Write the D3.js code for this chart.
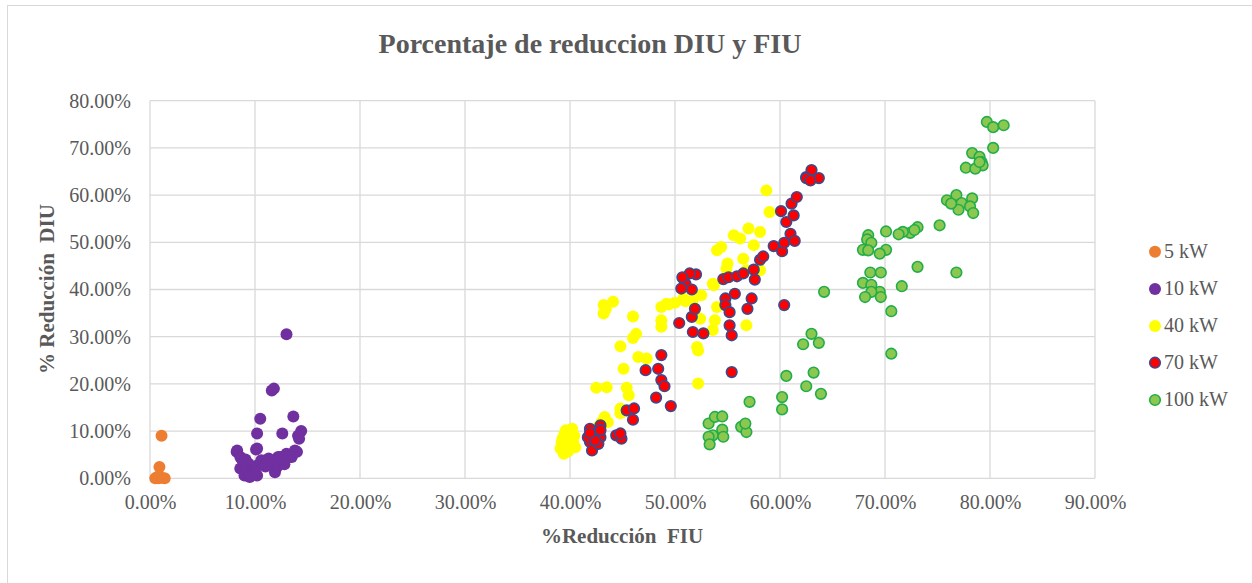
<!DOCTYPE html>
<html>
<head>
<meta charset="utf-8">
<script src="https://cdn.jsdelivr.net/npm/d3@7"></script>
<style>
    body { margin: 0; background: white; }
    text { font-family: "Liberation Serif", "Times New Roman", serif; fill: #595959; }
</style>
</head>
<body>
<script>
// values in percent, [%Reduccion FIU, %Reduccion DIU]
let series = ["5 kW", "10 kW", "40 kW", "70 kW", "100 kW"];

let kw5 = [[0.5, 0], [0.8, 0], [1.1, 0.1], [1.4, 0], [0.7, 0.3], [0.9, 2.4], [1.1, 9.0]];

let kw10 = [[13.0, 30.5], [11.6, 18.6], [11.8, 19.0], [10.5, 12.6], [13.65, 13.1], [10.2, 9.5], [12.6, 9.5],
    [14.4, 10.0], [14.2, 8.4], [14.1, 9.0], [10.1, 6.1], [10.2, 6.3], [8.25, 5.6], [8.3, 5.9], [8.6, 4.5],
    [8.7, 4.2], [8.6, 2.1], [9.0, 0.6], [9.7, 1.3], [9.4, 3.1], [10.3, 2.8], [11.3, 4.2], [11.9, 2.1],
    [12.2, 4.5], [13.0, 5.2], [13.8, 5.9], [10.6, 3.8], [9.5, 0.3], [10.2, 0.6], [11.6, 3.1], [12.5, 3.5],
    [13.5, 4.5], [12.1, 2.4], [12.4, 4.5], [14.0, 5.6], [13.3, 4.5], [11.1, 3.1], [11.9, 1.3], [9.2, 1.8],
    [9.8, 2.2], [8.9, 3.3], [9.1, 4.0], [9.6, 0.9], [10.0, 1.5], [12.8, 3.0], [11.0, 2.5]];

let kw40 = [[39.4, 5.2], [39.5, 7.3], [40.0, 9.5], [40.3, 7.7], [39.5, 9.5], [40.5, 6.6], [39.7, 6.3],
    [39.3, 8.5], [40.2, 10.5], [39.1, 6.3], [39.6, 10.2], [40.4, 9.0], [39.2, 7.6], [40.1, 8.2], [39.8, 5.7],
    [43.3, 13.0], [43.6, 11.9], [44.8, 13.8], [43.0, 11.9], [42.7, 10.9], [44.8, 14.8], [43.5, 19.3],
    [42.5, 19.2], [45.4, 19.2], [45.6, 17.6], [45.1, 23.2], [44.8, 28.0], [46.0, 29.7], [46.3, 30.6],
    [46.0, 34.3], [43.2, 36.7], [44.1, 37.4], [43.2, 34.9], [43.4, 35.8], [46.5, 25.7], [47.3, 25.4],
    [48.7, 36.3], [48.7, 33.5], [48.7, 32.1], [49.4, 36.8], [50.0, 37.2], [51.0, 37.5], [50.8, 38.1],
    [52.5, 38.8], [49.2, 37.0], [53.7, 40.9], [54.9, 44.4], [56.5, 46.5], [54.0, 48.3], [54.4, 49.0],
    [55.6, 51.5], [56.2, 50.8], [57.0, 52.9], [58.1, 52.2], [57.5, 49.4], [58.7, 61.0], [59.0, 56.4],
    [56.8, 44.1], [54.0, 36.3], [52.4, 33.8], [53.6, 41.2], [53.6, 31.4], [53.8, 33.5], [56.8, 32.4],
    [52.2, 27.1], [52.1, 27.8], [52.2, 20.1], [51.7, 37.8], [55.0, 45.5], [58.1, 44.1]];

let kw70 = [[41.9, 10.5], [42.9, 11.2], [41.9, 7.7], [42.9, 8.7], [42.1, 5.9], [42.7, 7.3], [42.9, 10.2],
    [41.7, 8.7], [42.4, 8.0], [41.9, 9.6], [44.4, 9.1], [44.9, 8.4], [44.8, 9.5], [45.4, 14.4], [46.1, 14.8],
    [46.0, 12.4], [48.2, 17.1], [49.6, 15.3], [47.2, 22.9], [48.4, 23.2], [48.7, 26.1], [48.7, 20.8],
    [49.0, 19.5], [50.4, 32.9], [51.6, 34.2], [51.9, 35.9], [51.7, 31.0], [52.7, 30.7], [50.8, 42.3],
    [51.0, 41.2], [50.6, 40.2], [51.6, 40.0], [52.0, 43.2], [51.4, 43.4], [50.7, 42.6], [54.8, 38.1],
    [55.7, 39.1], [54.8, 36.7], [55.2, 35.2], [57.3, 38.1], [56.9, 35.9], [55.2, 32.4], [55.4, 30.3],
    [55.4, 22.5], [54.6, 42.2], [55.1, 42.6], [55.9, 42.8], [56.5, 43.4], [57.5, 44.2], [57.6, 42.1],
    [58.1, 46.3], [58.4, 47.0], [59.4, 49.2], [60.2, 48.1], [60.4, 49.9], [61.0, 51.8], [61.4, 50.3],
    [60.1, 56.6], [60.6, 54.3], [61.1, 58.2], [61.3, 55.7], [61.6, 59.6], [60.4, 36.7], [62.5, 63.8],
    [63.0, 65.3], [62.5, 63.6], [63.7, 63.6], [62.9, 63.1]];

let kw100 = [[53.2, 11.6], [53.8, 13.0], [54.5, 13.1], [54.5, 10.3], [53.6, 9.1], [53.2, 8.8], [53.3, 7.2],
    [54.6, 8.8], [56.3, 10.9], [56.8, 9.8], [56.7, 11.6], [57.1, 16.2], [60.6, 21.7], [60.2, 17.2],
    [60.2, 14.6], [62.2, 28.4], [62.5, 19.5], [63.0, 30.6], [63.7, 28.7], [63.2, 22.4], [63.9, 17.9],
    [64.2, 39.5], [79.7, 75.5], [80.3, 74.4], [81.3, 74.8], [80.3, 70.0], [78.3, 68.9], [79.0, 68.1],
    [79.2, 67.0], [79.3, 66.3], [77.7, 65.8], [78.6, 65.6], [79.0, 67.0], [75.9, 58.9], [76.8, 60.0],
    [77.3, 58.3], [77.0, 56.9], [78.3, 59.3], [78.1, 57.6], [78.4, 56.2], [76.3, 58.2], [75.2, 53.6],
    [73.1, 53.2], [72.4, 52.0], [71.7, 52.2], [71.3, 51.7], [70.1, 52.3], [72.8, 52.6], [68.4, 51.5],
    [68.3, 50.6], [68.7, 49.9], [67.9, 48.4], [68.4, 48.3], [70.1, 48.4], [69.5, 47.6], [73.1, 44.8],
    [76.8, 43.6], [68.6, 43.6], [69.6, 43.6], [67.9, 41.4], [68.7, 41.0], [71.6, 40.7], [69.5, 39.5],
    [68.7, 39.5], [68.1, 38.4], [69.6, 38.4], [70.6, 35.4], [70.6, 26.4]];

let xTicks = [0, 0.1, 0.2, 0.3, 0.4, 0.5, 0.6, 0.7, 0.8, 0.9];
let yTicks = [0, 0.1, 0.2, 0.3, 0.4, 0.5, 0.6, 0.7, 0.8];

let allData = [kw5, kw10, kw40, kw70, kw100];
let fills = ["#ed7d31", "#7030a0", "#ffff00", "#ff0000", "#8cc850"];
let strokes = ["none", "none", "none", "#3c4a8c", "#22ad4a"];

let w = 1252, h = 583;
let plotLeft = 150, plotRight = 1095, plotTop = 100.7, plotBottom = 478.3;

const svg = d3.select("body").append("svg")
    .attr("width", w)
    .attr("height", h)
    .style("display", "block");

// chart frame
svg.append("rect")
    .attr("x", 7.5).attr("y", 5.5)
    .attr("width", 1260).attr("height", 600)
    .attr("fill", "white")
    .attr("stroke", "#d9d9d9");

const xScale = d3.scaleLinear().domain([0, 0.9]).range([plotLeft, plotRight]);
const yScale = d3.scaleLinear().domain([0, 0.8]).range([plotBottom, plotTop]);

// grid
svg.append("g").selectAll("line")
    .data(xTicks).enter().append("line")
    .attr("x1", d => xScale(d)).attr("x2", d => xScale(d))
    .attr("y1", plotTop).attr("y2", plotBottom)
    .attr("stroke", "#d9d9d9").attr("stroke-width", 1.3);
svg.append("g").selectAll("line")
    .data(yTicks).enter().append("line")
    .attr("x1", plotLeft).attr("x2", plotRight)
    .attr("y1", d => yScale(d)).attr("y2", d => yScale(d))
    .attr("stroke", "#d9d9d9").attr("stroke-width", 1.3);

const xAxis = d3.axisBottom(xScale).tickValues(xTicks).tickFormat(d3.format(".2%")).tickSize(0).tickPadding(17);
const yAxis = d3.axisLeft(yScale).tickValues(yTicks).tickFormat(d3.format(".2%")).tickSize(0).tickPadding(19);

svg.append("g")
    .attr("transform", "translate(0," + plotBottom + ")")
    .call(xAxis)
    .attr("font-family", null)
    .call(g => g.select(".domain").remove())
    .selectAll("text").style("font-size", "20px").attr("fill", "#595959");

svg.append("g")
    .attr("transform", "translate(" + plotLeft + ",0)")
    .call(yAxis)
    .attr("font-family", null)
    .call(g => g.select(".domain").remove())
    .selectAll("text").style("font-size", "20px").attr("fill", "#595959");

// points
allData.forEach((data, i) => {
    svg.append("g").selectAll("circle")
        .data(data).enter().append("circle")
        .attr("cx", d => xScale(d[0] / 100))
        .attr("cy", d => yScale(d[1] / 100))
        .attr("r", strokes[i] == "none" ? 6 : 5.3)
        .attr("fill", fills[i])
        .attr("stroke", strokes[i])
        .attr("stroke-width", 1.6);
});

// titles
svg.append("text")
    .attr("x", 590).attr("y", 53)
    .attr("text-anchor", "middle")
    .style("font-size", "28px").style("font-weight", "bold")
    .text("Porcentaje de reduccion DIU y FIU");

svg.append("text")
    .attr("x", 622).attr("y", 543)
    .attr("text-anchor", "middle")
    .style("font-size", "21px").style("font-weight", "bold")
    .text("%Reducción\u00a0 FIU");

svg.append("text")
    .attr("transform", "translate(54,289) rotate(-90)")
    .attr("text-anchor", "middle")
    .style("font-size", "21px").style("font-weight", "bold")
    .text("% Reducción\u00a0 DIU");

// legend
let legendY = [251.7, 289, 326, 362.7, 400];
let legend = svg.append("g").attr("id", "legend");
legend.selectAll("circle")
    .data(series).enter().append("circle")
    .attr("cx", 1155)
    .attr("cy", (d, i) => legendY[i])
    .attr("r", (d, i) => strokes[i] == "none" ? 6 : 5.3)
    .attr("fill", (d, i) => fills[i])
    .attr("stroke", (d, i) => strokes[i])
    .attr("stroke-width", 1.6);
legend.selectAll("text")
    .data(series).enter().append("text")
    .attr("x", 1164)
    .attr("y", (d, i) => legendY[i] + 6)
    .style("font-size", "20px")
    .text(d => d);
</script>
</body>
</html>
